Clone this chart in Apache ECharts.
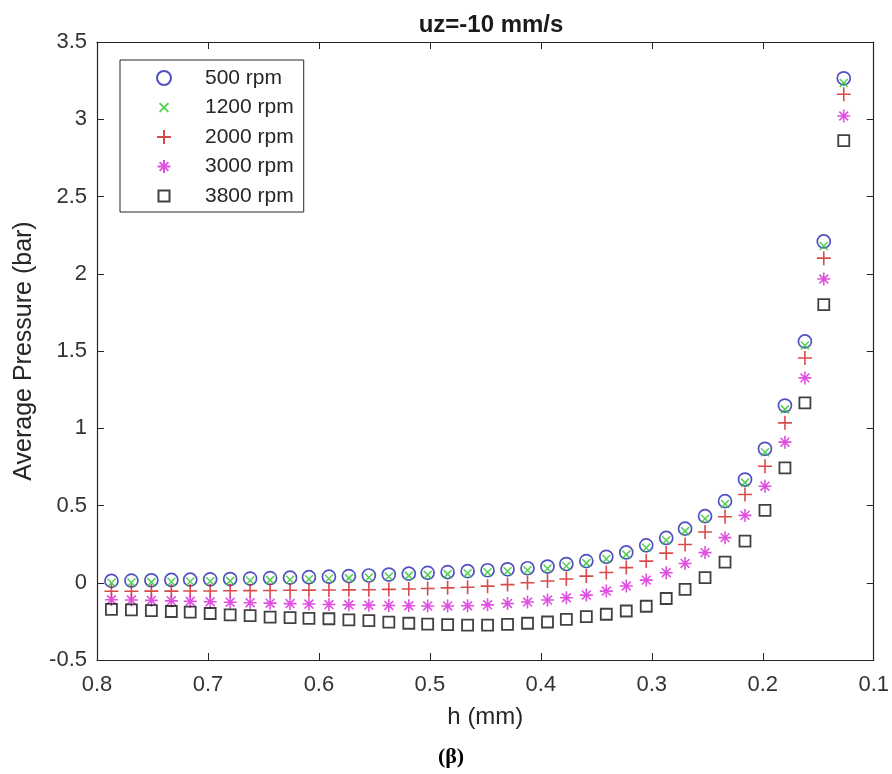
<!DOCTYPE html>
<html><head><meta charset="utf-8">
<script src="https://cdn.jsdelivr.net/npm/echarts@6/dist/echarts.min.js"></script>
<style>html,body{margin:0;padding:0;background:#fff}#c{width:892px;height:774px}</style>
</head><body><div id="c"></div>
<script>
// gap h (mm)
const h = [0.787,0.769,0.751,0.733,0.716,0.698,0.680,0.662,0.644,0.626,0.609,0.591,0.573,0.555,0.537,0.519,0.502,0.484,0.466,0.448,0.430,0.412,0.394,0.377,0.359,0.341,0.323,0.305,0.287,0.270,0.252,0.234,0.216,0.198,0.180,0.162,0.145,0.127];
// average pressure (bar)
const p500  = [0.012,0.014,0.016,0.018,0.020,0.022,0.024,0.027,0.030,0.033,0.036,0.039,0.043,0.047,0.053,0.059,0.064,0.069,0.075,0.081,0.087,0.094,0.105,0.121,0.140,0.168,0.196,0.242,0.290,0.350,0.431,0.528,0.668,0.867,1.147,1.562,2.209,3.265];
const p1200 = [0.000,0.002,0.004,0.006,0.008,0.010,0.012,0.014,0.017,0.020,0.023,0.026,0.030,0.034,0.040,0.046,0.051,0.056,0.062,0.068,0.074,0.081,0.092,0.108,0.127,0.154,0.182,0.227,0.275,0.334,0.414,0.510,0.648,0.845,1.122,1.535,2.180,3.235];
const p2000 = [-0.055,-0.055,-0.054,-0.054,-0.053,-0.053,-0.052,-0.051,-0.050,-0.049,-0.048,-0.047,-0.046,-0.045,-0.043,-0.040,-0.037,-0.033,-0.029,-0.022,-0.012,0.000,0.011,0.024,0.043,0.066,0.098,0.140,0.192,0.248,0.328,0.427,0.571,0.754,1.035,1.455,2.101,3.162];
const p3000 = [-0.110,-0.112,-0.114,-0.117,-0.120,-0.123,-0.126,-0.129,-0.132,-0.135,-0.138,-0.141,-0.143,-0.145,-0.147,-0.149,-0.150,-0.150,-0.149,-0.143,-0.134,-0.125,-0.112,-0.097,-0.080,-0.054,-0.021,0.017,0.065,0.125,0.195,0.292,0.436,0.625,0.910,1.326,1.966,3.021];
const p3800 = [-0.172,-0.175,-0.180,-0.186,-0.190,-0.199,-0.208,-0.213,-0.222,-0.226,-0.231,-0.233,-0.240,-0.245,-0.255,-0.262,-0.268,-0.271,-0.274,-0.274,-0.269,-0.262,-0.254,-0.237,-0.219,-0.204,-0.183,-0.152,-0.102,-0.043,0.033,0.134,0.270,0.468,0.744,1.164,1.800,2.862];
const seriesNames = ['500 rpm','1200 rpm','2000 rpm','3000 rpm','3800 rpm'];
const xTicks = [0.8,0.7,0.6,0.5,0.4,0.3,0.2,0.1];
const yTicks = [-0.5,0,0.5,1,1.5,2,2.5,3,3.5];

const FONT = "'Liberation Sans', Arial, Helvetica, sans-serif";
const AX = '#262626';
const pts = v => h.map((x, i) => [x, v[i]]);

const styles = [
  {symbol:'circle', size:13, color:'#2424b4', bw:1.7, icon:'circle'},
  {symbol:'path://M0,0L10,10M10,0L0,10', size:8, color:'#28c428', bw:1.5, icon:'path://M-3,-3L-3,-3M13,13L13,13M0,0L10,10M10,0L0,10'},
  {symbol:'path://M5,0L5,10M0,5L10,5', size:14, color:'#d01e1e', bw:1.6, icon:'path://M5,0L5,10M0,5L10,5'},
  {symbol:'path://M5,0L5,10M0,5L10,5M1.6,1.6L8.4,8.4M8.4,1.6L1.6,8.4', size:13, color:'#d824d8', bw:1.6, icon:'path://M-0.4,-0.4L-0.4,-0.4M10.4,10.4L10.4,10.4M5,0L5,10M0,5L10,5M1.6,1.6L8.4,8.4M8.4,1.6L1.6,8.4'},
  {symbol:'rect', size:11, color:'#111111', bw:1.8, icon:'path://M0,0L0,0M14,14L14,14M1.5,1.5L12.5,1.5L12.5,12.5L1.5,12.5Z'}
];
const vals = [p500, p1200, p2000, p3000, p3800];

const axisCommon = {
  axisLine:{show:true, onZero:false, lineStyle:{color:AX, width:1.2}},
  axisTick:{show:true, inside:true, length:7, lineStyle:{color:AX}},
  splitLine:{show:false}
};

const chart = echarts.init(document.getElementById('c'), null, {renderer:'canvas'});
chart.setOption({
  animation:false,
  backgroundColor:'#fff',
  title:[
    {text:'uz=-10 mm/s', left:486, textAlign:'center', top:8,
     textStyle:{fontFamily:FONT, fontWeight:'bold', fontSize:24, color:'#1a1a1a'}},
    {text:'(β)', left:446, textAlign:'center', top:741,
     textStyle:{fontFamily:"'Liberation Serif','Times New Roman',serif", fontWeight:'bold', fontSize:22, color:'#000'}}
  ],
  legend:{
    orient:'vertical', left:120, top:60,
    padding:[7,10,5,36],
    itemWidth:14, itemHeight:14, itemGap:7.5,
    borderColor:'#262626', borderWidth:1, backgroundColor:'#fff',
    data:seriesNames.map((n, k) => ({name:n, icon:styles[k].icon})),
    textStyle:{fontFamily:FONT, fontSize:21, color:'#262626', lineHeight:22, padding:[0,0,0,29]}
  },
  grid:{left:97, right:17, top:42, bottom:114, containLabel:false},
  xAxis:[
    Object.assign({type:'value', min:0.1, max:0.8, interval:0.1, inverse:true,
     name:'h (mm)', nameLocation:'middle', nameGap:45,
     nameTextStyle:{fontFamily:FONT, fontSize:24, color:'#262626'},
     axisLabel:{show:true, margin:14, fontFamily:FONT, fontSize:22, color:'#333',
       formatter:v => { const t = xTicks.find(k => Math.abs(k - v) < 1e-6); return t === undefined ? '' : t.toFixed(1); }}
    }, axisCommon),
    Object.assign({type:'value', position:'top', min:0.1, max:0.8, interval:0.1, inverse:true,
     axisLabel:{show:false}}, axisCommon)
  ],
  yAxis:[
    Object.assign({type:'value', min:-0.5, max:3.5, interval:0.5,
     name:'Average Pressure (bar)', nameLocation:'middle', nameGap:60,
     nameTextStyle:{fontFamily:FONT, fontSize:25, color:'#262626'},
     axisLabel:{show:true, margin:10, fontFamily:FONT, fontSize:22, color:'#333',
       formatter:v => { const t = yTicks.find(k => Math.abs(k - v) < 1e-6); return t === undefined ? '' : String(t); }}
    }, axisCommon),
    Object.assign({type:'value', position:'right', min:-0.5, max:3.5, interval:0.5,
     axisLabel:{show:false}}, axisCommon)
  ],
  series: seriesNames.map((name, k) => ({
    name, type:'scatter', xAxisIndex:0, yAxisIndex:0,
    symbol:styles[k].symbol, symbolSize:styles[k].size,
    itemStyle:{color:'rgba(255,255,255,0)', borderColor:styles[k].color, borderWidth:styles[k].bw},
    emphasis:{disabled:true},
    data:pts(vals[k])
  }))
});
</script></body></html>
